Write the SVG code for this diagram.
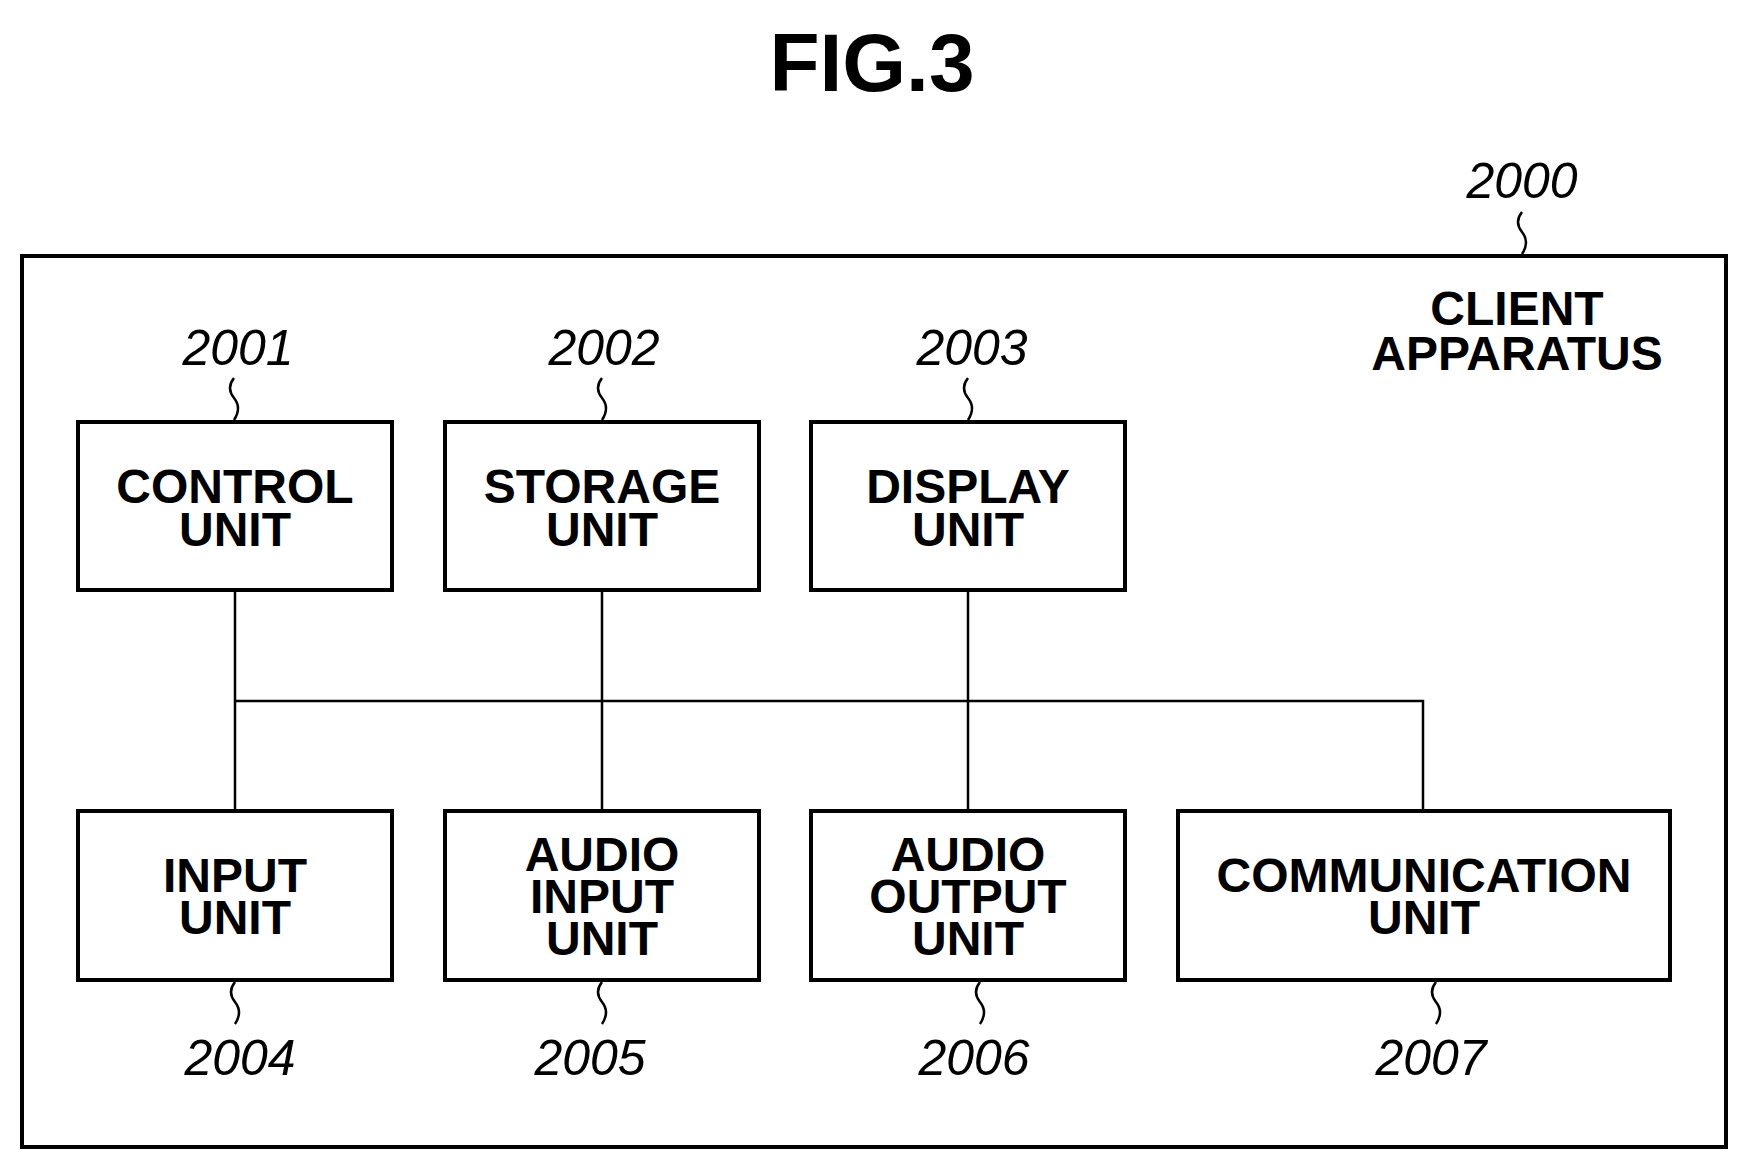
<svg xmlns="http://www.w3.org/2000/svg" width="1746" height="1168" viewBox="0 0 1746 1168">
<style>
.b{fill:none;stroke:#000;stroke-width:4}
.l{fill:none;stroke:#000;stroke-width:2.5}
.t{font-family:"Liberation Sans",Arial,sans-serif;font-weight:bold;font-size:48px;text-anchor:middle}
.n{font-family:"Liberation Sans",Arial,sans-serif;font-style:italic;font-size:50px;text-anchor:middle}
</style>
<rect width="1746" height="1168" fill="#fff"/>
<text x="872" y="91" class="t" style="font-size:82px">FIG.3</text>
<g id="client"><rect class="b" x="22" y="256" width="1704" height="891"/>
<text class="t" x="1517" y="325">CLIENT</text><text class="t" x="1517" y="370">APPARATUS</text>
<text class="n" x="1522" y="198">2000</text><path class="l" d="M1522 212 q-8 10 0 20 q8 10 0 22"/></g>
<g id="connectors">
<path class="l" d="M235 590V811M602 590V811M968 590V811M235 701H1423V811"/>
</g>
<g id="n2001"><rect class="b" x="78" y="422" width="314" height="168"/><text class="t" x="235" y="503">CONTROL</text><text class="t" x="235" y="546">UNIT</text><text class="n" x="238" y="365">2001</text><path class="l" d="M234 378q-8 10 0 20q8 10 0 22"/></g>
<g id="n2002"><rect class="b" x="445" y="422" width="314" height="168"/><text class="t" x="602" y="503">STORAGE</text><text class="t" x="602" y="546">UNIT</text><text class="n" x="604" y="365">2002</text><path class="l" d="M602 378q-8 10 0 20q8 10 0 22"/></g>
<g id="n2003"><rect class="b" x="811" y="422" width="314" height="168"/><text class="t" x="968" y="503">DISPLAY</text><text class="t" x="968" y="546">UNIT</text><text class="n" x="972" y="365">2003</text><path class="l" d="M968 378q-8 10 0 20q8 10 0 22"/></g>
<g id="n2004"><rect class="b" x="78" y="811" width="314" height="169"/><text class="t" x="235" y="892">INPUT</text><text class="t" x="235" y="934">UNIT</text><text class="n" x="240" y="1075">2004</text><path class="l" d="M235 982q-8 10 0 20q8 10 0 22"/></g>
<g id="n2005"><rect class="b" x="445" y="811" width="314" height="169"/><text class="t" x="602" y="871">AUDIO</text><text class="t" x="602" y="913">INPUT</text><text class="t" x="602" y="955">UNIT</text><text class="n" x="590" y="1075">2005</text><path class="l" d="M602 982q-8 10 0 20q8 10 0 22"/></g>
<g id="n2006"><rect class="b" x="811" y="811" width="314" height="169"/><text class="t" x="968" y="871">AUDIO</text><text class="t" x="968" y="913">OUTPUT</text><text class="t" x="968" y="955">UNIT</text><text class="n" x="974" y="1075">2006</text><path class="l" d="M980 982q-8 10 0 20q8 10 0 22"/></g>
<g id="n2007"><rect class="b" x="1178" y="811" width="492" height="169"/><text class="t" x="1424" y="892">COMMUNICATION</text><text class="t" x="1424" y="934">UNIT</text><text class="n" x="1431" y="1075">2007</text><path class="l" d="M1436 982q-8 10 0 20q8 10 0 22"/></g>
</svg>
